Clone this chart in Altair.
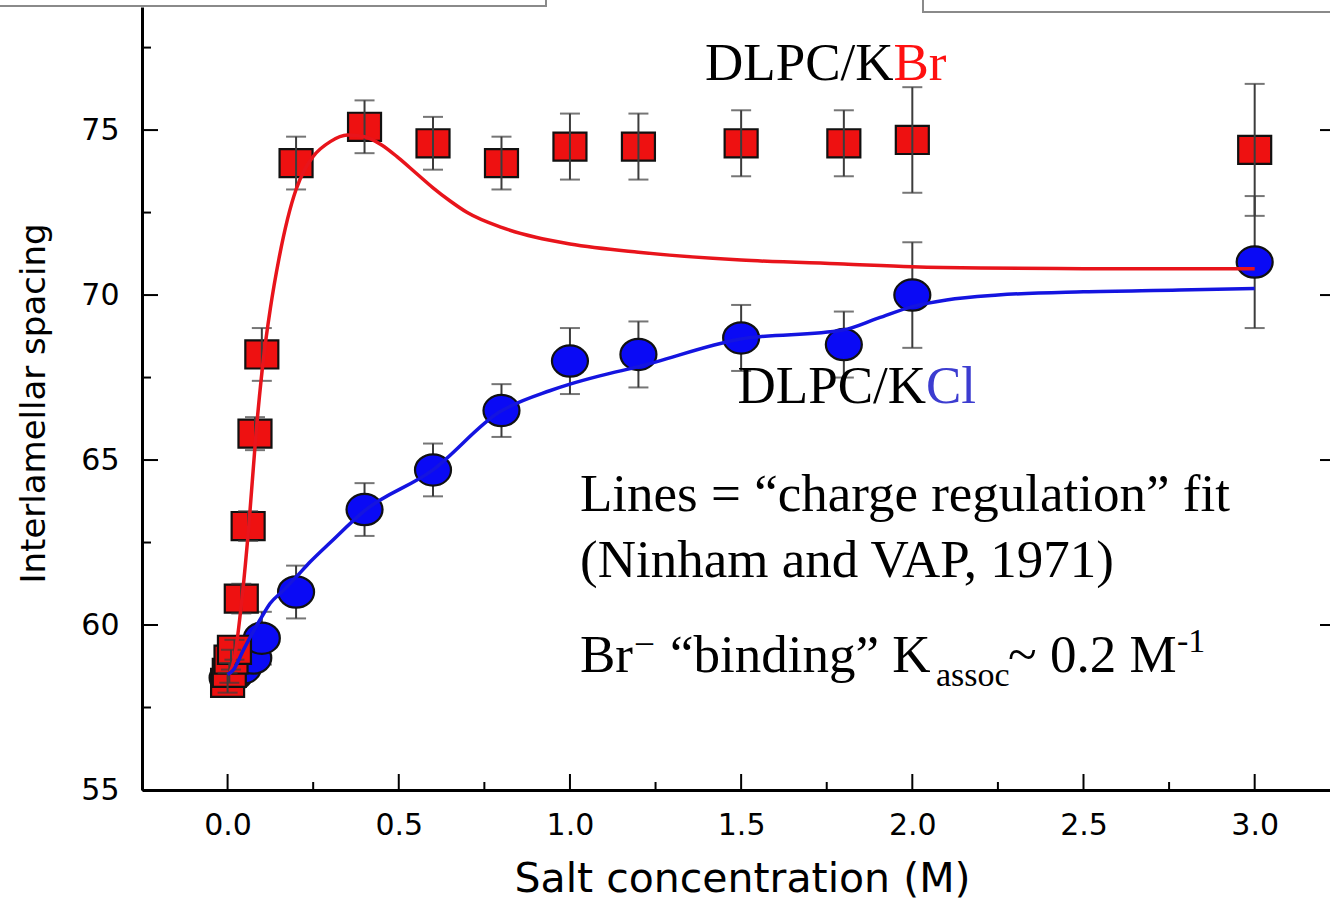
import altair as alt
import pandas as pd

# ---------------- data ----------------
kbr_conc = [0.0, 0.005, 0.01, 0.02, 0.04, 0.06, 0.08, 0.1, 0.2, 0.4, 0.6, 0.8, 1.0, 1.2, 1.5, 1.8, 2.0, 3.0]
kbr_spacing = [58.25, 58.55, 58.95, 59.25, 60.8, 63.0, 65.8, 68.2, 74.0, 75.1, 74.6, 74.0, 74.5, 74.5, 74.6, 74.6, 74.7, 74.4]
kbr_err = [0.3, 0.3, 0.3, 0.3, 0.45, 0.45, 0.5, 0.8, 0.8, 0.8, 0.8, 0.8, 1.0, 1.0, 1.0, 1.0, 1.6, 2.0]

kcl_conc = [0.0, 0.02, 0.045, 0.075, 0.1, 0.2, 0.4, 0.6, 0.8, 1.0, 1.2, 1.5, 1.8, 2.0, 3.0]
kcl_spacing = [58.4, 58.5, 58.7, 59.0, 59.6, 61.0, 63.5, 64.7, 66.5, 68.0, 68.2, 68.7, 68.5, 70.0, 71.0]
kcl_err = [0.3, 0.3, 0.3, 0.4, 0.8, 0.8, 0.8, 0.8, 0.8, 1.0, 1.0, 1.0, 1.0, 1.6, 2.0]

kbr_fit_conc = [0.005, 0.02, 0.042, 0.062, 0.083, 0.104, 0.125, 0.15, 0.175, 0.2, 0.225, 0.25, 0.3,
                0.35, 0.4, 0.45, 0.5, 0.55, 0.6, 0.65, 0.7, 0.8, 0.9, 1.0, 1.2, 1.5, 1.8, 2.0,
                2.2, 2.5, 3.0]
kbr_fit_spacing = [58.5, 59.0, 60.8, 63.0, 65.8, 68.0, 69.6, 71.1, 72.3, 73.2, 73.8, 74.2, 74.65,
                   74.85, 74.8, 74.55, 74.15, 73.7, 73.25, 72.85, 72.5, 72.05, 71.75, 71.55, 71.3,
                   71.06, 70.94, 70.86, 70.82, 70.8, 70.8]

kcl_fit_conc = [0.0, 0.017, 0.046, 0.1, 0.124, 0.163, 0.2, 0.24, 0.3, 0.396, 0.6, 0.795, 0.941,
                1.0, 1.087, 1.2, 1.495, 1.797, 1.9, 2.0, 2.1, 2.25, 2.5, 2.78, 3.0]
kcl_fit_spacing = [58.5, 58.64, 59.24, 60.25, 60.65, 61.05, 61.45, 61.9, 62.5, 63.43, 64.7, 66.46, 67.1,
                   67.3, 67.55, 67.83, 68.66, 68.94, 69.3, 69.65, 69.85, 70.0, 70.1, 70.15, 70.2]

x_major = [0.0, 0.5, 1.0, 1.5, 2.0, 2.5, 3.0]
x_minor = [0.25, 0.75, 1.25, 1.75, 2.25, 2.75]
y_major = [55, 60, 65, 70, 75]
y_minor = [57.5, 62.5, 67.5, 72.5, 77.5]

label_kbr = ["DLPC/K", "Br"]
label_kcl = ["DLPC/K", "Cl"]
note_line1 = "Lines = \u201ccharge regulation\u201d fit"
note_line2 = "(Ninham and VAP, 1971)"
note_line3 = ["Br", "\u2013", "\u201cbinding\u201d K", "assoc", "~ 0.2 M", "-1"]

# ---------------- chart ----------------
W, H = 1188, 783
xs = alt.Scale(domain=[-0.25, 3.22], nice=False, zero=False)
ys = alt.Scale(domain=[55, 78.73], nice=False, zero=False)

SANS = "DejaVu Sans"
SERIF = "Liberation Serif"

x_axis = alt.Axis(values=x_major, format=".1f", labelPadding=20, labelOverlap=False,
                  title="Salt concentration (M)", titleFontSize=41, titleBaseline="alphabetic",
                  titleY=101, titleX=600, titleAlign="center")
y_axis = alt.Axis(values=y_major, labelPadding=23, labelOverlap=False,
                  title="Interlamellar spacing", titleFontSize=34, titleAngle=270,
                  titleBaseline="alphabetic", titleX=-98, titleY=396, titleAlign="center")


def X(field):
    return alt.X(field, scale=xs, axis=x_axis)


def Y(field):
    return alt.Y(field, scale=ys, axis=y_axis)


def frame(conc, sp, err):
    return pd.DataFrame({"x": conc, "y": sp,
                         "lo": [a - b for a, b in zip(sp, err)],
                         "hi": [a + b for a, b in zip(sp, err)]})


kbr = frame(kbr_conc, kbr_spacing, kbr_err)
kcl = frame(kcl_conc, kcl_spacing, kcl_err)

ERR = "#3c3c3c"
SQUARE = "M-1,-0.85L1,-0.85L1,0.85L-1,0.85Z"
ELLIPSE = "M-1,0A1,0.87,0,1,1,1,0A1,0.87,0,1,1,-1,0Z"


def errbars(df):
    rule = alt.Chart(df).mark_rule(color=ERR, strokeWidth=2).encode(
        x=X("x:Q"), y=Y("lo:Q"), y2="hi:Q")
    caps_df = pd.concat([df[["x", "lo"]].rename(columns={"lo": "c"}),
                         df[["x", "hi"]].rename(columns={"hi": "c"})])
    caps = alt.Chart(caps_df).mark_tick(orient="horizontal", size=20, thickness=2, color=ERR).encode(
        x=X("x:Q"), y=Y("c:Q"))
    return [rule, caps]


def markers(df, shape, size, color):
    return alt.Chart(df).mark_point(shape=shape, size=size, filled=True, color=color, stroke="#111111",
                                    strokeWidth=2.2, opacity=1).encode(x=X("x:Q"), y=Y("y:Q"))


def fitline(conc, sp, color):
    df = pd.DataFrame({"x": conc, "y": sp})
    return alt.Chart(df).mark_line(color=color, strokeWidth=3.5, interpolate="monotone").encode(
        x=X("x:Q"), y=Y("y:Q"))


def xticks(vals, length):
    return alt.Chart(pd.DataFrame({"v": vals})).mark_rule(color="black", strokeWidth=2).encode(
        x=X("v:Q"), y=alt.value(H), y2=alt.value(H - length))


def yticks(vals, x0, x1):
    return alt.Chart(pd.DataFrame({"v": vals})).mark_rule(color="black", strokeWidth=2).encode(
        y=Y("v:Q"), x=alt.value(x0), x2=alt.value(x1))


one = pd.DataFrame({"a": [0]})


def txt(s, x, y, size, color="black", align="left", font=SERIF):
    return alt.Chart(pd.DataFrame({"t": [s]})).mark_text(
        font=font, fontSize=size, color=color, align=align, baseline="alphabetic").encode(
        text="t:N", x=alt.value(x), y=alt.value(y))


def box(x0, x1, y0, y1):
    return alt.Chart(one).mark_rect(fill="white", stroke="#8a8a8a", strokeWidth=2).encode(
        x=alt.value(x0), x2=alt.value(x1), y=alt.value(y0), y2=alt.value(y1))


layers = (
    errbars(kcl)
    + [markers(kcl, ELLIPSE, 1296, "#0a0af5"),
       markers(kbr, SQUARE, 1089, "#ee1111")]
    + errbars(kbr)
    + [
        fitline(kbr_fit_conc, kbr_fit_spacing, "#e8141b"),
        fitline(kcl_fit_conc, kcl_fit_spacing, "#1414e0"),
        xticks(x_major, 16),
        xticks(x_minor, 8),
        yticks(y_major, 0, 16),
        yticks(y_minor, 0, 9),
        yticks(y_major[1:], W - 10, W),
        txt(label_kbr[0], 751.5, 73, 53, align="right"),
        txt(label_kbr[1], 751.5, 73, 53, color="#ff1010"),
        txt(label_kcl[0], 784, 396, 53, align="right"),
        txt(label_kcl[1], 784, 396, 53, color="#3c3cd0"),
        txt(note_line1, 438, 504, 53),
        txt(note_line2, 438, 570, 53),
        txt(note_line3[0], 438, 665, 53),
        txt(note_line3[1], 494, 645, 34),
        txt(note_line3[2], 528, 665, 53),
        txt(note_line3[3], 794, 679, 34),
        txt(note_line3[4], 866, 665, 53),
        txt(note_line3[5], 1035, 645, 34),
        box(-150, 404, -20, -1),
        box(781, 1200, -20, 5),
    ]
)

chart = alt.layer(*layers).properties(
    width=W, height=H,
    padding={"left": 142, "top": 7, "right": 0, "bottom": 113},
    autosize=alt.AutoSizeParams(type="none"),
).configure_view(stroke=None).configure_axis(
    domainColor="black", domainWidth=3, ticks=False, grid=False,
    labelFont=SANS, labelFontSize=30, labelColor="black",
    titleFont=SANS, titleFontWeight="normal", titleColor="black",
)

chart.save("out.html", embed_options={"renderer": "svg", "actions": False})
